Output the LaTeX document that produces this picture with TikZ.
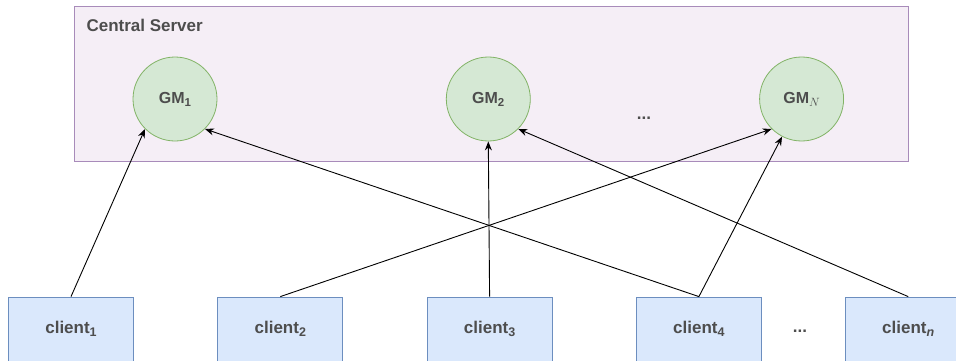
\documentclass[tikz,border=0pt]{standalone}
\usepackage{fontspec}
\setmainfont{Liberation Sans}
\usetikzlibrary{shapes.geometric, arrows.meta, positioning}
\definecolor{serverfill}{HTML}{F5EEF6}
\definecolor{serverline}{HTML}{A88BBA}
\definecolor{gmfill}{HTML}{D5E8D4}
\definecolor{gmline}{HTML}{82B366}
\definecolor{clientfill}{HTML}{DAE8FC}
\definecolor{clientline}{HTML}{6C8EBF}
\definecolor{labelgray}{HTML}{4D4D4D}
\newcommand{\lowsub}[1]{\raisebox{-0.35ex}{\fontsize{12.5}{14}\selectfont #1}}
\newcommand{\gmsub}[1]{\raisebox{-0.35ex}{\fontsize{11.5}{13}\selectfont #1}}
\tikzstyle{server} = [rectangle, draw=serverline, fill=serverfill, line width=0.9pt, minimum width=834pt, minimum height=155pt]
\tikzstyle{gm} = [circle, draw=gmline, fill=gmfill, line width=0.8pt, minimum size=84pt, inner sep=0pt, font=\fontsize{16}{19}\selectfont\bfseries, text=labelgray]
\tikzstyle{client} = [rectangle, draw=clientline, fill=clientfill, line width=0.8pt, minimum width=125pt, minimum height=64pt, font=\fontsize{17}{20}\selectfont\bfseries, text=labelgray]
\tikzstyle{dots} = [font=\fontsize{17}{20}\selectfont\bfseries, text=labelgray]
\tikzstyle{arrow} = [line width=0.9pt, -{Stealth[length=9pt, width=7pt]}]

\begin{document}
\begin{tikzpicture}[x=1pt, y=1pt]
\useasboundingbox (0,0) rectangle (956,360);

% Server
\node[server] (server) at (491,276.5) {};
\node[anchor=west, font=\fontsize{17}{20}\selectfont\bfseries, text=labelgray] (serverlabel) at (83,335) {Central Server};

% Global models
\node[gm] (gm1) at (175,261) {GM\gmsub{1}};
\node[gm, right=228.5pt of gm1] (gm2) {GM\gmsub{2}};
\node[gm, right=228.5pt of gm2] (gmN) {GM\gmsub{$N$}};
\node[dots] (gmdots) at (644,242) {...};

% Clients
\node[client] (c1) at (71,31) {client\lowsub{1}};
\node[client, right=83.5pt of c1] (c2) {client\lowsub{2}};
\node[client, right=83.5pt of c2] (c3) {client\lowsub{3}};
\node[client, right=83.5pt of c3] (c4) {client\lowsub{4}};
\node[client, right=83.5pt of c4] (cn) {client\lowsub{\textit{n}}};
\node[dots] (clientdots) at (800,29) {...};

% Arrows
\draw[arrow] (c1.north) -- (gm1.south west);
\draw[arrow] (c2.north) -- (gmN.south west);
\draw[arrow] (c3.north) -- (gm2.south);
\draw[arrow] (c4.north) -- (gm1.south east);
\draw[arrow] (c4.north) -- (gmN);
\draw[arrow] (cn.north) -- (gm2.south east);

\end{tikzpicture}
\end{document}
